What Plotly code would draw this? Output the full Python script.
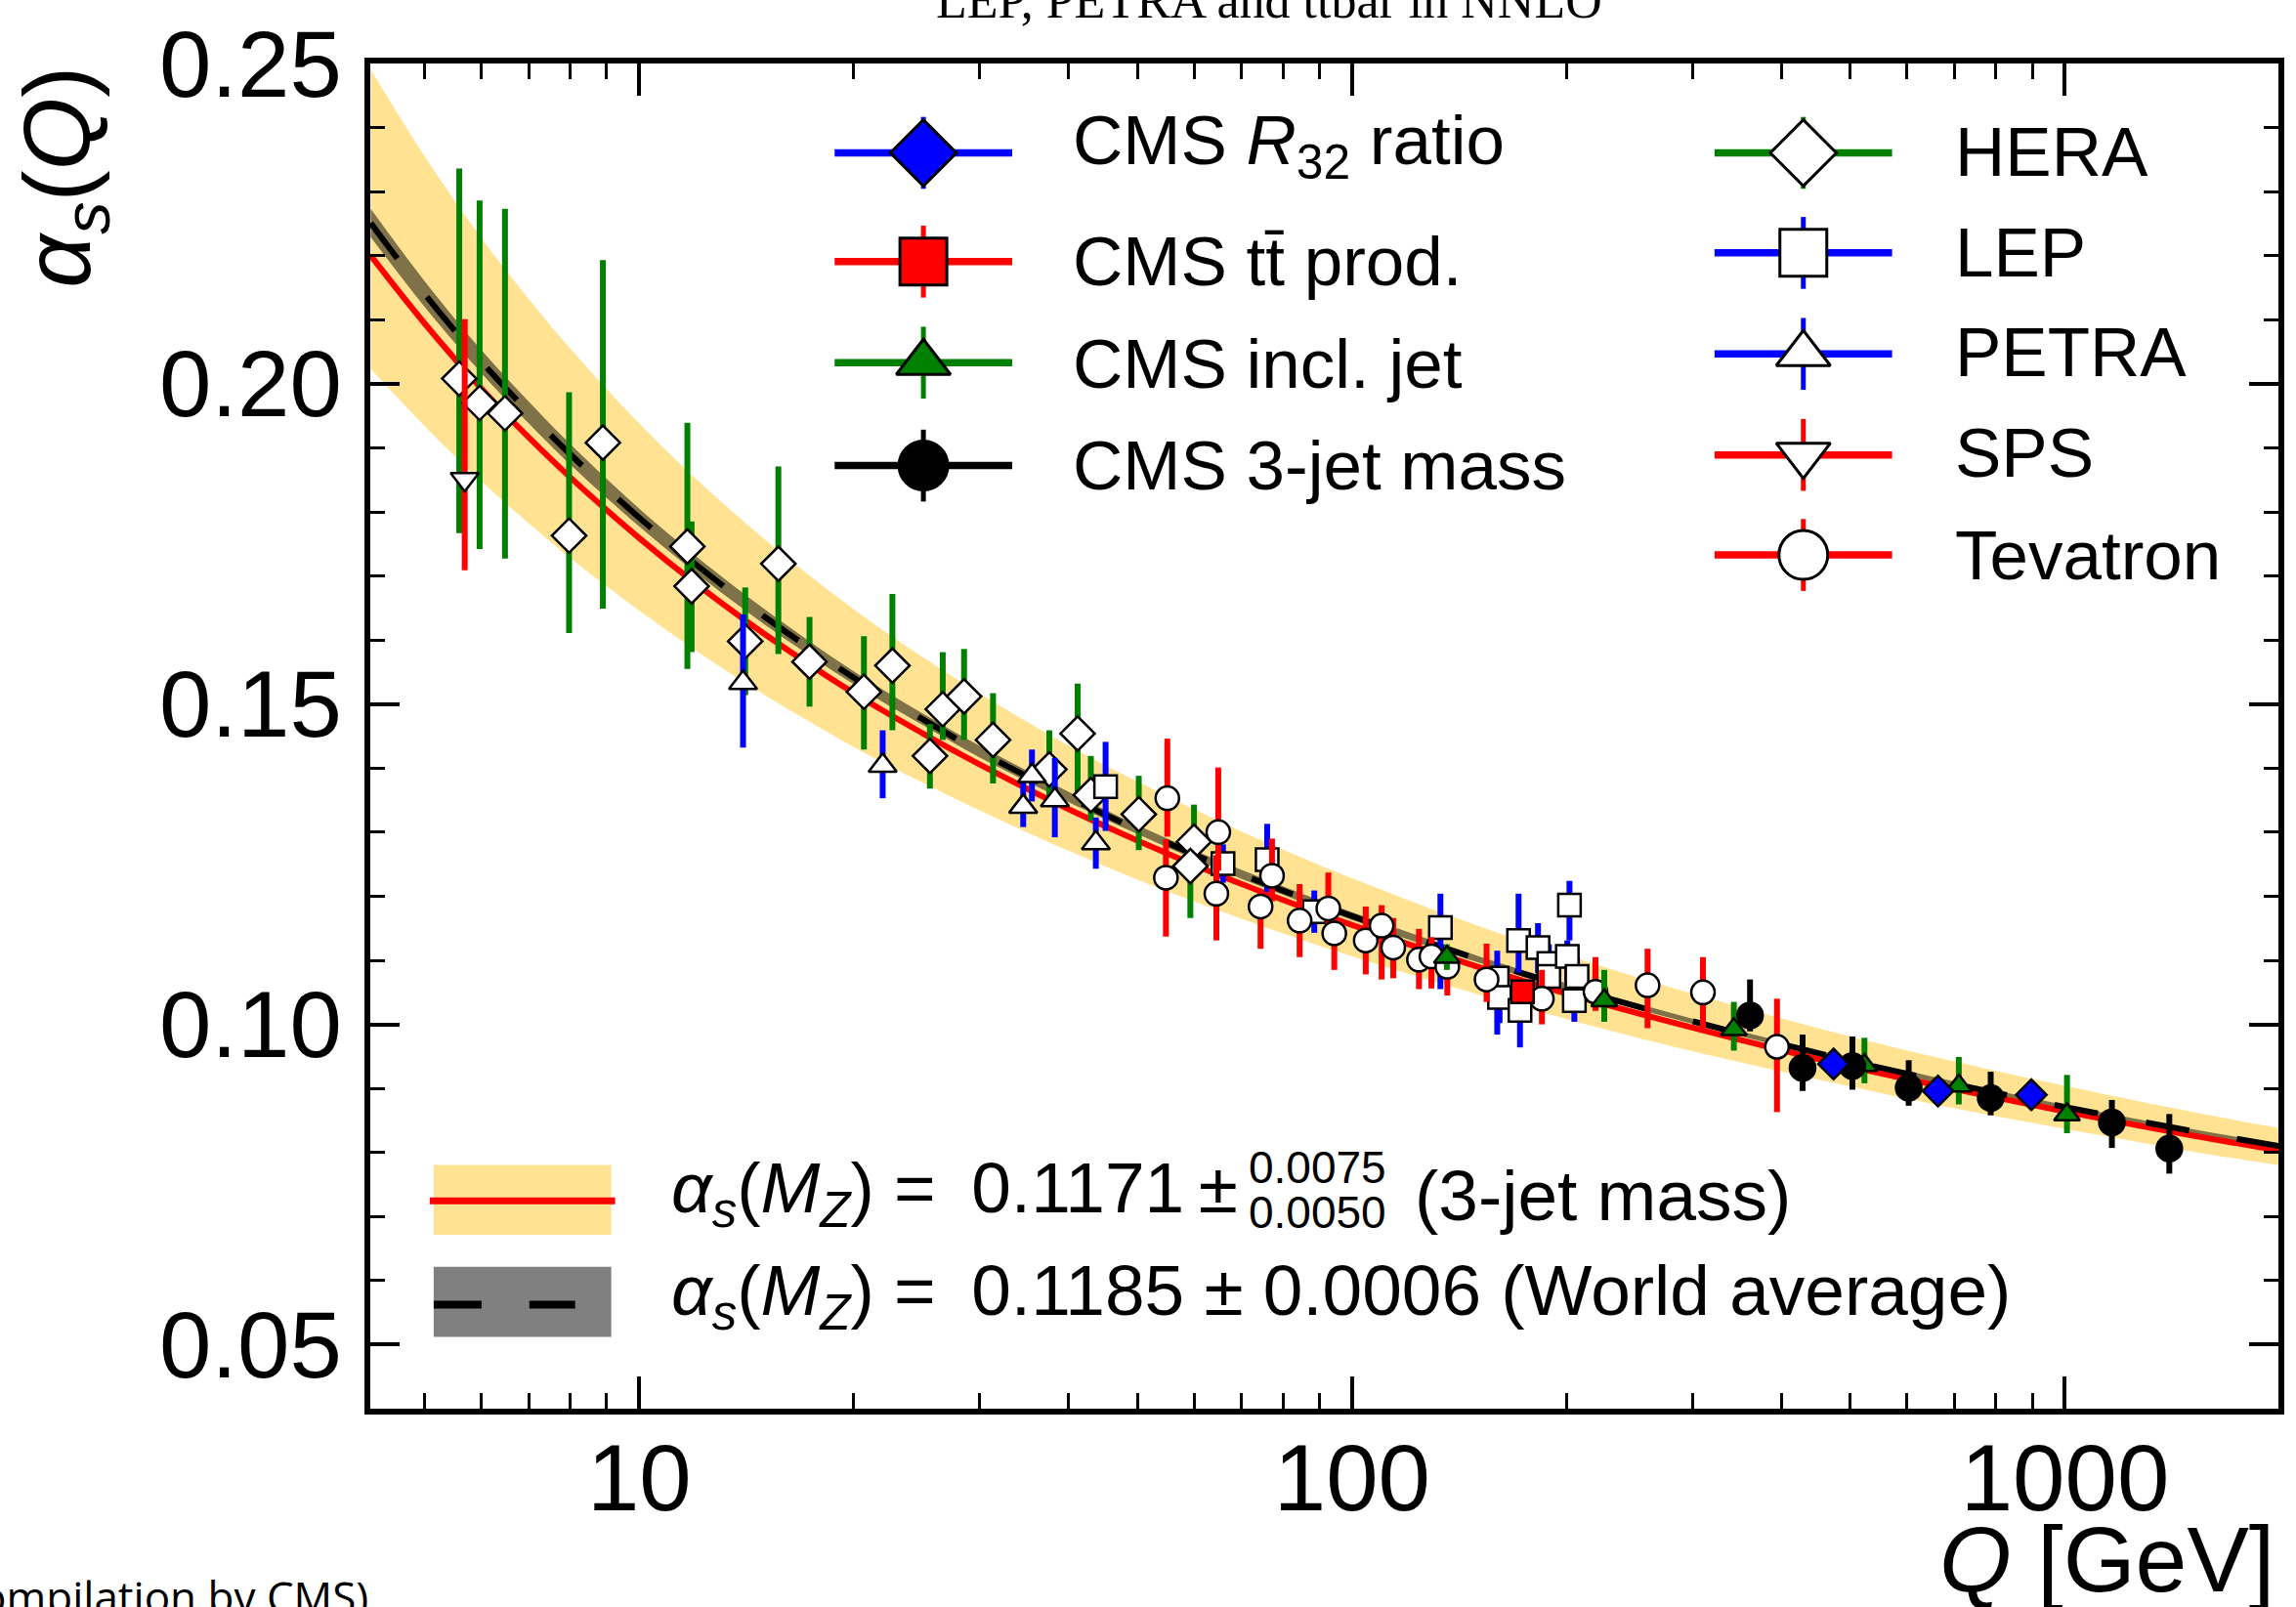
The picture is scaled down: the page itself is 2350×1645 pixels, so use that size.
import plotly.graph_objects as go

# ---------------------------------------------------------------
# running coupling curves
# ---------------------------------------------------------------
Q_CURVE = [4.2, 5, 6, 7, 8, 10, 12, 15, 20, 25, 30, 40, 50, 70, 100,
           150, 200, 300, 500, 700, 1000, 1500, 2000]
# 3-jet mass fit: central value and its band
FIT_CENTRAL = [0.2200, 0.2094, 0.1993, 0.1916, 0.1854, 0.1759, 0.1688, 0.1609,
               0.1517, 0.1454, 0.1406, 0.1336, 0.1287, 0.1219, 0.1155, 0.1090,
               0.1048, 0.0995, 0.0934, 0.0899, 0.0864, 0.0827, 0.0803]
FIT_UP = [0.2491, 0.2355, 0.2228, 0.2132, 0.2055, 0.1938, 0.1852, 0.1757,
          0.1648, 0.1573, 0.1517, 0.1435, 0.1379, 0.1301, 0.1228, 0.1154,
          0.1108, 0.1048, 0.0981, 0.0942, 0.0904, 0.0864, 0.0838]
FIT_DN = [0.2023, 0.1934, 0.1848, 0.1782, 0.1728, 0.1646, 0.1584, 0.1514,
          0.1433, 0.1377, 0.1334, 0.1271, 0.1226, 0.1165, 0.1106, 0.1047,
          0.1008, 0.0958, 0.0903, 0.0869, 0.0837, 0.0802, 0.0780]
# world average and its band
WA = [0.2251, 0.2140, 0.2035, 0.1955, 0.1890, 0.1791, 0.1718, 0.1636,
      0.1541, 0.1476, 0.1426, 0.1355, 0.1304, 0.1234, 0.1169, 0.1102,
      0.1059, 0.1005, 0.0943, 0.0907, 0.0871, 0.0834, 0.0810]
WA_HI = [0.2273, 0.2160, 0.2053, 0.1972, 0.1906, 0.1805, 0.1731, 0.1648,
         0.1551, 0.1485, 0.1435, 0.1363, 0.1311, 0.1241, 0.1175, 0.1107,
         0.1064, 0.1009, 0.0947, 0.0911, 0.0874, 0.0837, 0.0813]
WA_LO = [0.2229, 0.2120, 0.2017, 0.1938, 0.1874, 0.1777, 0.1705, 0.1624,
         0.1531, 0.1467, 0.1417, 0.1347, 0.1297, 0.1227, 0.1163, 0.1097,
         0.1054, 0.1001, 0.0939, 0.0903, 0.0868, 0.0831, 0.0807]

# ---------------------------------------------------------------
# measurements: Q, alpha_s, +err, -err
# ---------------------------------------------------------------
HERA_Q = [5.59, 5.97, 6.48, 7.97, 8.89, 11.68, 11.84, 14.08, 15.67, 17.33, 20.66,
          22.65, 25.57, 26.65, 28.55, 31.35, 37.6, 41.2, 43.0, 50.2, 60.0, 59.3]
HERA_A = [0.2008, 0.1970, 0.1954, 0.1763, 0.1908, 0.1746, 0.1684, 0.1598, 0.1719,
          0.1566, 0.1519, 0.1560, 0.1419, 0.1492, 0.1512, 0.1444, 0.1398, 0.1454,
          0.1358, 0.1328, 0.1285, 0.1247]
HERA_UP = [0.0328, 0.0316, 0.0319, 0.0224, 0.0285, 0.0193, 0.0101, 0.0084, 0.0152,
           0.0070, 0.0087, 0.0112, 0.0050, 0.0089, 0.0074, 0.0073, 0.0061, 0.0078,
           0.0061, 0.0060, 0.0058, 0.0040]
HERA_DN = [0.0241, 0.0228, 0.0227, 0.0152, 0.0259, 0.0191, 0.0103, 0.0084, 0.0141,
           0.0070, 0.0090, 0.0101, 0.0051, 0.0048, 0.0068, 0.0068, 0.0045, 0.0096,
           0.0040, 0.0056, 0.0040, 0.0081]

PETRA_Q = [13.98, 21.95, 34.56, 35.55, 38.28, 43.7]
PETRA_A = [0.1533, 0.1404, 0.1340, 0.1388, 0.1350, 0.1283]
PETRA_UP = [0.0107, 0.0055, 0.0040, 0.0041, 0.0066, 0.0040]
PETRA_DN = [0.0101, 0.0051, 0.0032, 0.0040, 0.0058, 0.0040]

SPS_Q = [5.69]
SPS_A = [0.1851]
SPS_UP = [0.0250]
SPS_DN = [0.0142]

LEP_Q = [45.1, 65.9, 76.0, 88.5, 133, 159.8, 161, 171.2, 172, 182.3, 188.8,
         188.8, 200.4, 201.8, 206.8, 205]
LEP_A = [0.1371, 0.1251, 0.1257, 0.1176, 0.1151, 0.1072, 0.1042, 0.1131, 0.1022,
         0.1120, 0.1095, 0.1075, 0.1106, 0.1186, 0.1075, 0.1037]
LEP_UP = [0.0070, 0.0030, 0.0056, 0.0033, 0.0053, 0.0043, 0.0030, 0.0073, 0.0040,
          0.0038, 0.0030, 0.0030, 0.0025, 0.0038, 0.0030, 0.0030]
LEP_DN = [0.0069, 0.0030, 0.0050, 0.0033, 0.0096, 0.0088, 0.0040, 0.0050, 0.0058,
          0.0040, 0.0030, 0.0030, 0.0040, 0.0055, 0.0030, 0.0033]

TEV_Q = [55.05, 54.8, 64.9, 64.5, 74.4, 77.2, 84.4, 92.6, 94.4, 104.5, 110,
         114.2, 124.1, 129.2, 136, 154.4, 184.6, 219.5, 259.7, 310.6, 394.5]
TEV_A = [0.1353, 0.1229, 0.1300, 0.1204, 0.1184, 0.1232, 0.1162, 0.1181, 0.1142,
         0.1131, 0.1154, 0.1120, 0.1101, 0.1106, 0.1090, 0.1070, 0.1040, 0.1051,
         0.1061, 0.1050, 0.0965]
TEV_UP = [0.0093, 0.0060, 0.0101, 0.0060, 0.0027, 0.0058, 0.0057, 0.0056, 0.0030,
          0.0053, 0.0032, 0.0046, 0.0048, 0.0030, 0.0030, 0.0056, 0.0045, 0.0054,
          0.0057, 0.0055, 0.0075]
TEV_DN = [0.0060, 0.0092, 0.0060, 0.0073, 0.0066, 0.0040, 0.0057, 0.0040, 0.0057,
          0.0053, 0.0084, 0.0048, 0.0046, 0.0050, 0.0045, 0.0035, 0.0040, 0.0030,
          0.0067, 0.0056, 0.0102]

INCL_Q = [135.8, 225.8, 343.2, 523.3, 709.8, 1006.7]
INCL_A = [0.1105, 0.1037, 0.0992, 0.0936, 0.0904, 0.0859]
INCL_UP = [0.0020, 0.0048, 0.0043, 0.0043, 0.0045, 0.0062]
INCL_DN = [0.0020, 0.0033, 0.0033, 0.0028, 0.0029, 0.0029]

M3J_Q = [361.6, 428.5, 503.3, 603.7, 786.8, 1163.8, 1401]
M3J_A = [0.1014, 0.0932, 0.0935, 0.0901, 0.0885, 0.0847, 0.0806]
M3J_UP = [0.0056, 0.0052, 0.0046, 0.0043, 0.0041, 0.0035, 0.0054]
M3J_DN = [0.0025, 0.0036, 0.0037, 0.0028, 0.0027, 0.0040, 0.0039]

R32_Q = [473.6, 663.6, 897.2]
R32_A = [0.0938, 0.0896, 0.0890]
R32_UP = [0.0015, 0.0015, 0.0015]
R32_DN = [0.0015, 0.0015, 0.0015]

TT_Q = [173.4]
TT_A = [0.1051]
TT_UP = [0.0012]
TT_DN = [0.0012]

X_TICKS = [10, 100, 1000]
X_MINOR = [5, 6, 7, 8, 9, 20, 30, 40, 50, 60, 70, 80, 90,
           200, 300, 400, 500, 600, 700, 800, 900]
Y_TICKS = [0.05, 0.10, 0.15, 0.20, 0.25]

# ---------------------------------------------------------------
# page geometry (pixels)
# ---------------------------------------------------------------
W, H = 2350, 1645
X0, X1, Y0, Y1 = 379, 2335, 57, 1442

YELLOW = "#FFE393"
GREEN = "#008000"
BLUE = "#0000FF"
RED = "#FF0000"
FONT = "Liberation Sans, Arial, sans-serif"


def px(x):
    return (x - X0) / (X1 - X0)


def py(y):
    return (Y1 - y) / (Y1 - Y0)


def data_trace(q, a, up, dn, symbol, fill, barcolor, size):
    return go.Scatter(
        x=q, y=a, mode="markers",
        marker=dict(symbol=symbol, size=size, color=fill,
                    line=dict(color="black", width=2.5)),
        error_y=dict(type="data", symmetric=False, array=up, arrayminus=dn,
                     color=barcolor, thickness=6, width=0),
        showlegend=False, hoverinfo="skip",
    )


fig = go.Figure()

# bands and curves
fig.add_trace(go.Scatter(x=Q_CURVE, y=FIT_DN, mode="lines", line=dict(width=0, shape="spline"),
                         showlegend=False, hoverinfo="skip"))
fig.add_trace(go.Scatter(x=Q_CURVE, y=FIT_UP, mode="lines", line=dict(width=0, shape="spline"),
                         fill="tonexty", fillcolor=YELLOW, showlegend=False, hoverinfo="skip"))
fig.add_trace(go.Scatter(x=Q_CURVE, y=WA_LO, mode="lines", line=dict(width=0, shape="spline"),
                         showlegend=False, hoverinfo="skip"))
fig.add_trace(go.Scatter(x=Q_CURVE, y=WA_HI, mode="lines", line=dict(width=0, shape="spline"),
                         fill="tonexty", fillcolor="rgb(127,113,72)", showlegend=False, hoverinfo="skip"))
fig.add_trace(go.Scatter(x=Q_CURVE, y=FIT_CENTRAL, mode="lines",
                         line=dict(color=RED, width=6, shape="spline"),
                         showlegend=False, hoverinfo="skip"))
fig.add_trace(go.Scatter(x=Q_CURVE, y=WA, mode="lines",
                         line=dict(color="black", width=6, dash="45px,50px", shape="spline"),
                         showlegend=False, hoverinfo="skip"))

# measurements
fig.add_trace(data_trace(HERA_Q, HERA_A, HERA_UP, HERA_DN, "diamond", "white", GREEN, 27))
fig.add_trace(data_trace(PETRA_Q, PETRA_A, PETRA_UP, PETRA_DN, "triangle-up", "white", BLUE, 25))
fig.add_trace(data_trace(SPS_Q, SPS_A, SPS_UP, SPS_DN, "triangle-down", "white", RED, 25))
fig.add_trace(data_trace(LEP_Q, LEP_A, LEP_UP, LEP_DN, "square", "white", BLUE, 23))
fig.add_trace(data_trace(TEV_Q, TEV_A, TEV_UP, TEV_DN, "circle", "white", RED, 24))
fig.add_trace(data_trace(INCL_Q, INCL_A, INCL_UP, INCL_DN, "triangle-up", GREEN, GREEN, 23))
fig.add_trace(data_trace(M3J_Q, M3J_A, M3J_UP, M3J_DN, "circle", "black", "black", 26))
fig.add_trace(data_trace(R32_Q, R32_A, R32_UP, R32_DN, "diamond", BLUE, BLUE, 24))
fig.add_trace(data_trace(TT_Q, TT_A, TT_UP, TT_DN, "square", RED, RED, 23))

# legend glyphs, drawn on a pixel-mapped overlay axis
LEGEND = [
    ("CMS <i>R</i><sub>32</sub> ratio", "diamond", BLUE, BLUE, 946, 149, 52, 141),
    ("CMS tt\u0304 prod.", "square", RED, RED, 946, 261, 48, 261),
    ("CMS incl. jet", "triangle-up", GREEN, GREEN, 946, 365, 48, 366),
    ("CMS 3-jet mass", "circle", "black", "black", 946, 471, 50, 471),
    ("HERA", "diamond", "white", GREEN, 1848, 149, 52, 148),
    ("LEP", "square", "white", BLUE, 1848, 252, 48, 252),
    ("PETRA", "triangle-up", "white", BLUE, 1848, 356, 48, 354),
    ("SPS", "triangle-down", "white", RED, 1848, 460, 48, 458),
    ("Tevatron", "circle", "white", RED, 1848, 563, 50, 563),
]
for label, sym, fill, col, xc, yc, size, ty in LEGEND:
    fig.add_trace(go.Scatter(x=[xc - 91, xc + 91], y=[yc, yc], mode="lines",
                             line=dict(color=col, width=7.5), xaxis="x2", yaxis="y2",
                             showlegend=False, hoverinfo="skip"))
    fig.add_trace(go.Scatter(x=[xc, xc], y=[yc - 37, yc + 37], mode="lines",
                             line=dict(color=col, width=5), xaxis="x2", yaxis="y2",
                             showlegend=False, hoverinfo="skip"))
    fig.add_trace(go.Scatter(x=[xc], y=[yc], mode="markers",
                             marker=dict(symbol=sym, size=size, color=fill,
                                         line=dict(color="black", width=3)),
                             xaxis="x2", yaxis="y2", showlegend=False, hoverinfo="skip"))
    tx = 1097 if xc < 1500 else 2001
    fig.add_annotation(text=label, x=px(tx), y=py(ty), xref="paper", yref="paper",
                       xanchor="left", yanchor="middle", showarrow=False,
                       font=dict(family=FONT, size=71, color="black"))

# bottom legend boxes
shapes = [
    dict(type="rect", x0=px(444), x1=px(626), y0=py(1191), y1=py(1263),
         fillcolor=YELLOW, line=dict(width=0)),
    dict(type="line", x0=px(440), x1=px(630), y0=py(1228), y1=py(1228),
         line=dict(color=RED, width=7)),
    dict(type="rect", x0=px(444), x1=px(626), y0=py(1296), y1=py(1368),
         fillcolor="#808080", line=dict(width=0)),
    dict(type="line", x0=px(444), x1=px(493), y0=py(1335), y1=py(1335),
         line=dict(color="black", width=8)),
    dict(type="line", x0=px(542), x1=px(589), y0=py(1335), y1=py(1335),
         line=dict(color="black", width=8)),
]
for s in shapes:
    s.update(xref="paper", yref="paper", layer="above")
    fig.add_shape(**s)


def note(text, x, y, size, xanchor="left", family=FONT, angle=0):
    fig.add_annotation(text=text, x=px(x), y=py(y), xref="paper", yref="paper",
                       xanchor=xanchor, yanchor="middle", showarrow=False,
                       textangle=angle, font=dict(family=family, size=size, color="black"))


AS_MZ = "<i>α</i><sub><i>s</i></sub>(<i>M</i><sub><i>Z</i></sub>) =\u2002"
note(AS_MZ + "0.1171\u2009±", 685, 1220, 73)
note("0.0075", 1277, 1194, 46)
note("0.0050", 1277, 1240, 46)
note("(3-jet mass)", 1448, 1222, 73)
note(AS_MZ + "0.1185 ± 0.0006 (World average)", 685, 1325, 73)

# texts around the frame
note("<i>α</i><sub><i>s</i></sub>(<i>Q</i>)", 65, 174, 96, xanchor="center", angle=-90)
note("<i>Q</i> [GeV]", 2333, 1597, 95, xanchor="right")
note("LEP, PETRA and ttbar in NNLO", 1300, -8, 52, xanchor="center",
     family="Liberation Serif, Times New Roman, serif")
note("(compilation by CMS)", 379, 1635, 44, xanchor="right", family="Open Sans, sans-serif")

axis_common = dict(
    ticks="inside", showline=True, linewidth=6, linecolor="black", mirror="allticks",
    showgrid=False, zeroline=False, tickcolor="black",
    tickfont=dict(family=FONT, size=96, color="black"),
)
fig.update_layout(
    width=W, height=H,
    margin=dict(l=X0, r=W - X1, t=Y0, b=H - Y1, pad=0),
    paper_bgcolor="white", plot_bgcolor="white", showlegend=False,
    font=dict(family=FONT, color="black"),
    xaxis=dict(type="log", range=[0.6226, 3.2995], tickmode="array",
               tickvals=X_TICKS, ticktext=[str(v) for v in X_TICKS],
               ticklen=33, tickwidth=4, ticklabelstandoff=-17,
               minor=dict(tickmode="array", tickvals=X_MINOR, ticks="inside",
                          ticklen=16, tickwidth=3, tickcolor="black", showgrid=False),
               **axis_common),
    yaxis=dict(range=[0.04, 0.25], tickmode="array", tickvals=Y_TICKS,
               ticktext=[f"{v:.2f}" for v in Y_TICKS],
               ticklen=30, tickwidth=4, ticklabelstandoff=4,
               minor=dict(dtick=0.01, tick0=0, ticks="inside",
                          ticklen=15, tickwidth=3, tickcolor="black", showgrid=False),
               **axis_common),
    xaxis2=dict(overlaying="x", anchor="y2", range=[X0, X1], visible=False),
    yaxis2=dict(overlaying="y", anchor="x2", range=[Y1, Y0], visible=False),
)

# drop the default body margin so the figure sits at the window's corner
fig.write_html("out.html", config={"displayModeBar": False},
               post_script="document.body.style.margin = '0';")
